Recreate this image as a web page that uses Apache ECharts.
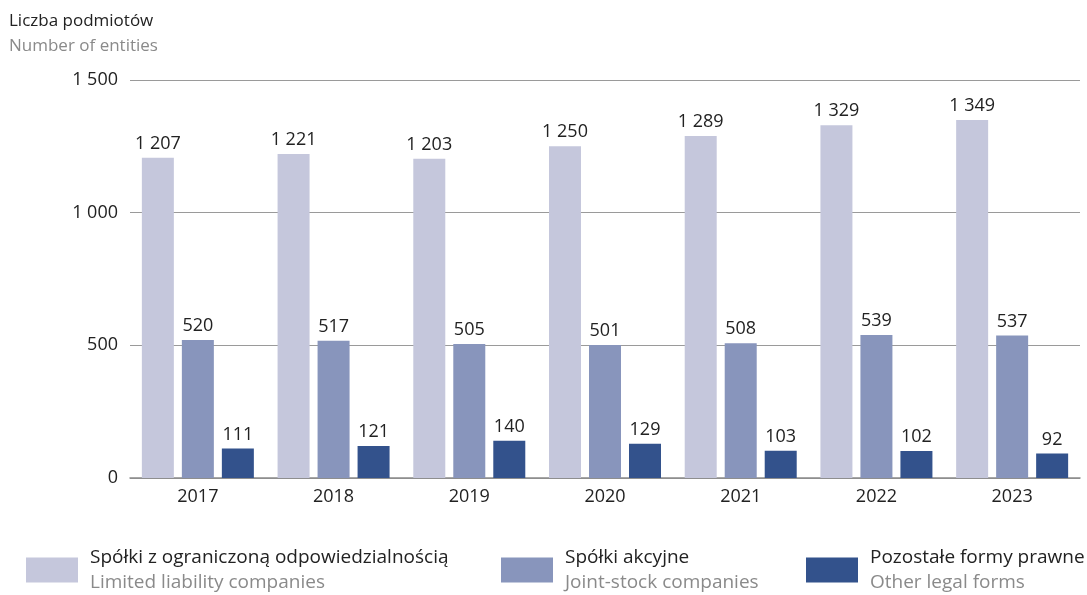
<!DOCTYPE html>
<html>
<head>
<meta charset="utf-8">
<script src="https://cdn.jsdelivr.net/npm/echarts@6/dist/echarts.min.js"></script>
<style>
  html, body { margin: 0; padding: 0; background: #fff; }
  #chart { width: 1087px; height: 595px; }
</style>
</head>
<body>
<div id="chart"></div>
<script>
var years = ['2017', '2018', '2019', '2020', '2021', '2022', '2023'];
var limitedLiability = [1207, 1221, 1203, 1250, 1289, 1329, 1349];
var jointStock = [520, 517, 505, 501, 508, 539, 537];
var otherForms = [111, 121, 140, 129, 103, 102, 92];

var seriesNames = [
	'Spółki z ograniczoną odpowiedzialnością',
	'Spółki akcyjne',
	'Pozostałe formy prawne'
];
var seriesNamesEn = [
	'Limited liability companies',
	'Joint-stock companies',
	'Other legal forms'
];
var colors = ['#c5c7dc', '#8895bc', '#33528c'];

var font = '"Open Sans", "Noto Sans", sans-serif';

function fmt(v) {
	return String(v).replace(/\B(?=(\d{3})+(?!\d))/g, ' ');
}

function makeSeries(i, data) {
	return {
		name: seriesNames[i],
		type: 'bar',
		data: data,
		barWidth: 32,
		barGap: '25%',
		itemStyle: { color: colors[i] },
		label: {
			show: true,
			position: 'top',
			distance: 5,
			fontFamily: font,
			fontSize: 18,
			color: '#222',
			formatter: function(p) { return fmt(p.value); }
		}
	};
}

function makeLegend(i, left) {
	return {
		data: [seriesNames[i]],
		left: left,
		top: 543,
		itemWidth: 52,
		itemHeight: 25,
		itemGap: 0,
		selectedMode: false,
		icon: 'rect',
		formatter: function(name) {
			return '{a|' + name + '}\n{b|' + seriesNamesEn[i] + '}';
		},
		textStyle: {
			padding: [0, 0, 0, 7],
			rich: {
				a: { fontFamily: font, fontSize: 19, color: '#222', lineHeight: 25 },
				b: { fontFamily: font, fontSize: 19, color: '#8a8a8a', lineHeight: 25 }
			}
		}
	};
}

var chart = echarts.init(document.getElementById('chart'));
var option = {
	animation: false,
	title: {
		text: 'Liczba podmiotów',
		subtext: 'Number of entities',
		left: 4,
		top: 8,
		itemGap: 8,
		textStyle: { fontFamily: font, fontSize: 17, fontWeight: 'normal', color: '#222' },
		subtextStyle: { fontFamily: font, fontSize: 17, color: '#8a8a8a' }
	},
	legend: [
		makeLegend(0, 21),
		makeLegend(1, 496),
		makeLegend(2, 801)
	],
	grid: {
		left: 130,
		right: 7,
		top: 80,
		bottom: 117
	},
	xAxis: {
		type: 'category',
		data: years,
		axisTick: { show: false },
		axisLine: { lineStyle: { color: '#8a8a8a', width: 1.5 } },
		axisLabel: { fontFamily: font, fontSize: 18, color: '#222', margin: 10 }
	},
	yAxis: {
		type: 'value',
		min: 0,
		max: 1500,
		interval: 500,
		axisLine: { show: false },
		axisTick: { show: false },
		axisLabel: {
			fontFamily: font,
			fontSize: 18,
			color: '#222',
			margin: 12,
			formatter: function(v) { return fmt(v); }
		},
		splitLine: { lineStyle: { color: '#9a9a9a', width: 1 } }
	},
	series: [
		makeSeries(0, limitedLiability),
		makeSeries(1, jointStock),
		makeSeries(2, otherForms)
	]
};
chart.setOption(option);
</script>
</body>
</html>
